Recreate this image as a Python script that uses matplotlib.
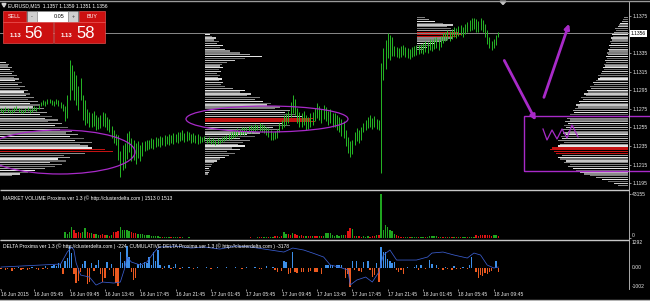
import matplotlib
matplotlib.use("Agg")
import numpy as np
import matplotlib.pyplot as plt
import matplotlib.patches as mpatches
import matplotlib.transforms as mtransforms

plt.rcParams['font.family'] = ['Liberation Sans', 'DejaVu Sans']

# ---- data (prices as pips above 1.1200, one entry per M15 bar) ----
BASE = 1.1200
header_text = "EURUSD,M15  1.1357 1.1359 1.1351 1.1356"
bid_big, ask_big = "56", "58"
lot_size = "0.05"
last_price = 1.1356

bar_high = [76, 75, 77, 76, 74, 75, 77, 78, 76, 75, 74, 76, 77, 75, 76, 78, 77, 79,
            82, 84, 83, 85, 86, 84, 83, 85, 84, 82, 80,
            78,
            90, 127, 122, 116, 111, 100, 108, 90, 84,
            75, 72, 70, 73, 68, 66,
            68, 72, 70, 66, 64,
            57, 52, 48,
            47, 30, 36,
            38, 49, 51, 44,
            41, 38, 40, 36, 39,
            40, 42, 41, 44, 43, 45, 44, 46, 45, 47, 46, 48, 47, 49, 48, 50,
            50, 52, 49, 51, 50, 48, 49, 47, 48, 46,
            45, 46, 44, 45, 43, 44, 42, 44, 43, 45, 46, 47, 48, 50, 51,
            52, 54, 53, 55, 56, 55, 57, 58, 57, 59, 58, 60, 59, 58, 56,
            54, 52, 50, 51, 53,
            60, 63, 68, 70, 73,
            82, 90, 86,
            76, 72, 70, 73, 68, 66, 70,
            72, 76, 81, 78, 75, 79, 77, 73, 75, 71,
            70, 68, 66, 64, 62,
            52, 45, 40, 42,
            50, 54, 52, 55,
            60, 63, 66, 68, 65, 67,
            64, 63,
            124,
            140, 149,
            156, 154, 152,
            142, 141, 140, 142, 143, 141, 140, 139, 141, 142, 143, 144, 145,
            146, 148, 147, 150, 149, 151, 152, 150, 153,
            156, 158, 160, 159, 161, 163, 162, 164, 165, 163, 166,
            168, 170, 172, 173, 171, 169, 172, 170, 166,
            160, 152, 148, 150, 154, 158]

bar_low = [72, 71, 73, 72, 70, 71, 72, 74, 72, 71, 70, 72, 73, 71, 72, 74, 73, 75,
           78, 79, 78, 80, 81, 79, 78, 80, 78, 76, 73,
           62,
           65, 84, 95, 84, 79, 74, 84, 63, 58,
           60, 56, 55, 57, 52, 53,
           54, 57, 55, 52, 50,
           44, 38, 36,
           20, 2, 9,
           11, 21, 29, 19,
           20, 16, 22, 19, 24,
           30, 31, 32, 33, 32, 34, 35, 34, 36, 35, 37, 36, 38, 37, 39, 38,
           40, 41, 39, 40, 41, 38, 39, 38, 37, 38,
           39, 40, 38, 39, 37, 38, 36, 37, 38, 39, 40, 41, 42, 43, 44,
           45, 46, 47, 48, 47, 49, 50, 49, 51, 50, 52, 51, 50, 49, 47,
           45, 42, 41, 43, 44,
           50, 53, 56, 58, 60,
           66, 70, 68,
           60, 56, 55, 58, 52, 53, 56,
           58, 62, 65, 63, 60, 64, 62, 58, 60, 56,
           55, 52, 50, 46, 44,
           35, 28, 23, 27,
           36, 40, 38, 42,
           50, 52, 54, 55, 53, 55,
           53, 52,
           6,
           106, 118,
           130, 127, 132,
           132, 131, 130, 131, 133, 131, 130, 129, 131, 132, 133, 134, 135,
           134, 136, 135, 138, 137, 139, 140, 138, 141,
           146, 148, 149, 148, 150, 152, 151, 153, 154, 152, 155,
           157, 159, 160, 161, 158, 157, 160, 158, 152,
           145, 140, 138, 140, 144, 152]

volume = [0, 0, 0, 0, 0, 0, 0, 0, 0, 0, 0, 0, 0, 0, 0, 0, 0, 0, 0, 0, 0, 0, 0, 0, 0, 0, 0, 0, 0,
          5900, 4000, 5900, 10800, 7800, 5000, 6000, 4500, 5500, 9800, 6000, 5000, 4500, 3500, 4000, 3000,
          2500, 3500, 2500, 3000, 2000, 3000, 6000, 5500, 6500, 10800, 7800, 7500, 8000, 6500, 6000, 5000,
          4500, 4000, 3500, 3500, 3000, 3000, 2500, 2000, 2000, 1500, 1500, 1000, 1200, 900, 1100, 1000,
          800, 1000, 900, 700, 800, 600,
          400, 300, 500, 300, 200, 400, 300, 200, 300, 400, 300, 200, 400, 300, 200, 300, 400, 300, 200, 300,
          400, 300, 200, 300, 400, 300, 200, 300, 400, 300, 500, 400, 300, 500, 600, 700, 500, 600, 800, 700, 900,
          1500, 1800, 1200, 1500, 5900, 4000, 3500, 3000, 4500, 3500, 2500, 2000, 2500, 1800, 2200, 1500,
          2000, 1800, 1500, 2200, 1600, 2000, 1800, 5000, 4500, 5000, 2500, 2000, 2500, 2200, 2800, 3000,
          3000, 7000, 9800, 8800, 2000, 1500, 1800, 1200, 1500, 1300, 1600, 1400, 1800, 1500, 3000,
          3000, 43155, 7800, 12700, 11000, 7800, 6500, 4000, 3000, 2000,
          900, 800, 700, 900, 800, 700, 800, 900, 700, 800,
          700, 800, 900, 2000, 2200, 1800, 2000, 900, 800, 700,
          800, 900, 700, 800, 900, 700, 800, 900, 800, 700,
          900, 800, 1200, 1000, 2500, 2200, 2800, 2500, 3000, 2600, 2800, 2400, 2600, 3000, 2200]

delta = [-80, 0, -120, -60, 0, -150, -90, 0, 40, -100, -60, 0, -130, -70, 30, 0, -90, -110, 0, -50,
         60, -80, 0, 50, 120, 80, 200, 150, -330,
         300, 450, 1050, 700, -300, -720, -650, -200, 150, 290, -810, -700, 240, -150, 100, 380,
         -300, -670, -500, 260, -100, 150, -400, -720, -860, 760, 200, 300, 1050, 480, -200, -575,
         -500, 150, 220, 120, 250, 200, 480, 100, 760, 300, 860, 100, -80, 60, 0, 120, -60, 40, 150, 0, -50, 30,
         0, -40, 20, 0, -60, 0, 30, 0, -30, 0, 20, 0, -50, 0, 0, 40, 0, -30, 0, 20,
         0, -40, 0, 30, 0, 0, -60, 0, 20, 0, -30, 0, 40, 0, -50, -80, 0, 60, -40, 0, 30,
         -100, -190, 0, -150, 290, 250, -330, -250, 720, -200, -240, 0, -220, -200, 0, -190, -150, 0,
         -220, -200, 0, -330, 0, 140, 140, 100, 140, 0, 140, 120, 140, 0, -480, -300, -910, 290, -100,
         330, -150, -200, 250, 0, 290, -100, -430, -380, 230,
         -670, 960, 760, 720, 400, 300, 200, 250, -130, -200, -100, -300, 0, 40, -40, 0, 30, 140, -100, 120,
         0, -60, 0, 380, 150, 0, 140, -80, 0, -100, 40, -90, 0, -100, 50, -80, 0, -90, 30, 0,
         -60, 120, 480, 0, -200, -480, -350, -400, -250, -300, -200, -150, 0, 290, -200]

cum_bars = [0, 9, 18, 27, 30, 32, 33, 34, 36, 40, 43, 46, 51, 54, 56, 57, 59, 63, 66, 69, 71, 72,
            79, 86, 92, 99, 106, 113, 122, 128, 132, 137, 141, 146, 149, 153, 157, 158, 161, 165,
            168, 171, 173, 176, 179, 184, 188, 193, 195, 200, 205, 211, 214, 217, 220, 223, 225]
cum_vals = [-3200, -2600, -2000, -1400, 5800, 8800, 7000, -800, -8000, -9200, -14000, -12200,
            -12800, -12200, -3800, 2800, -200, -2000, -200, 5200, 8200, 8800,
            9400, 8200, 8800, 7600, 9400, 8800, 7000, 5800, 8200, 7000, 5200, 2800, -2000, -3200,
            -5000, -14000, -11000, -9200, -12200, -6200, 4000, 7000, 1000, 1000, 1000, 2800, 5200,
            5800, 4000, 2200, 5200, 4000, -2000, -3800, -3200]

time_label_bars = [0, 15, 31, 47, 63, 79, 95, 111, 127, 143, 159, 175, 191, 207, 223]
time_labels = ["16 Jun 2015", "16 Jun 05:45", "16 Jun 09:45", "16 Jun 13:45", "16 Jun 17:45",
               "16 Jun 21:45", "17 Jun 01:45", "17 Jun 05:45", "17 Jun 09:45", "17 Jun 13:45",
               "17 Jun 17:45", "17 Jun 21:45", "18 Jun 01:45", "18 Jun 05:45", "18 Jun 09:45"]
price_ticks = [1.1375, 1.1335, 1.1315, 1.1295, 1.1275, 1.1255, 1.1235, 1.1215, 1.1195]

# volume profiles: 2-pip bins from a starting pip upward
prof1_start = 2
prof1 = [12, 20, 28, 35, 45, 55, 62, 50, 66, 58, 70, 64, 85, 113, 105, 92,
         88, 80, 92, 75, 84, 70, 78, 66, 72, 60, 68,
         55, 62, 48, 58, 45, 52, 40, 47, 36, 44, 33, 40, 30, 38, 28, 34, 26,
         30, 24, 28, 20, 25, 18, 22, 15, 19, 14, 17, 12, 14, 10, 12, 8, 9, 6]
prof2_start = 4
prof2 = [3, 4, 5, 4, 6, 7, 9, 12, 15, 20, 24, 30, 22, 35, 27, 40, 33,
         38, 45, 35, 50, 42, 55, 48, 75, 68, 85, 78, 110, 105, 108, 98,
         90, 80, 85, 70, 75, 62, 66, 58, 50, 55, 42, 46, 35, 40, 28,
         20, 16, 18, 14, 17, 13, 15, 12, 16, 14, 18, 15, 17,
         22, 30, 40, 57, 45, 35, 25, 20, 15, 18, 12, 14, 9, 11, 7, 5]
prof3_start = 138
prof3 = [6, 10, 14, 18, 24, 30, 36, 40, 44, 42, 38, 34, 30, 36, 26, 18, 12, 8]
prof4_start = -8
prof4 = [10, 14, 20, 26, 32, 38, 44, 48, 52, 55, 60, 58, 64, 62, 68, 70, 66, 72, 74,
         78, 76, 70, 68, 64, 70, 66, 67, 62, 65, 60,
         66, 62, 64, 60, 63, 58, 61, 56, 58, 54, 55,
         53, 50, 52, 48, 49, 45, 47, 42, 44, 40, 41, 37, 38, 34, 35, 32,
         30, 28, 30, 27, 26, 24, 25, 23, 24, 22, 23, 21, 22, 20, 21, 19, 20, 18, 19, 17, 18, 16,
         17, 15, 16, 14, 12, 13, 10, 9, 8, 6, 5, 4]

# ---- layout helpers (pixel space of the 650x301 screenshot) ----
W, H = 650, 301
PX_PER_BAR = 2.21
BAR0_PX = 1.0
PLOT_RIGHT = 629


def rect(x0, y0, x1, y1):
    return [x0 / W, 1 - y1 / H, (x1 - x0) / W, (y1 - y0) / H]


def bar_at(px):
    return (px - BAR0_PX) / PX_PER_BAR


def pip_at(py):
    return 175 - (py - 15.7) / 0.9311


GREEN = '#26b826'
PURPLE = '#a82ac8'
GRID = '#c8c8c8'
GRAYS = ['#8a8a8a', '#c6c6c6', '#6c6c6c', '#e4e4e4', '#a2a2a2', '#7c7c7c']
FS = 3.6

fig = plt.figure(figsize=(W / 100, H / 100), dpi=100)
fig.patch.set_facecolor('black')

ax = fig.add_axes(rect(0, 1.5, PLOT_RIGHT, 189))
axv = fig.add_axes(rect(0, 190.5, PLOT_RIGHT, 239.5))
axd = fig.add_axes(rect(0, 240.5, PLOT_RIGHT, 288.5))
for a in (ax, axv, axd):
    a.set_facecolor('black')
    a.set_xlim(bar_at(0), bar_at(PLOT_RIGHT))
    for s in a.spines.values():
        s.set_visible(False)

idx = np.arange(len(bar_high))

# ---- main price panel ----
ax.set_ylim(pip_at(189), pip_at(1.5))


def draw_profile(start_pip, vols, anchor, right_aligned=False):
    vols = np.asarray(vols, dtype=float)
    lengths = vols / PX_PER_BAR
    centers = start_pip + 1 + 2 * np.arange(len(vols))
    cols = ['#c41212' if v >= 0.9 * vols.max() else GRAYS[k % len(GRAYS)]
            for k, v in enumerate(vols)]
    left = anchor - lengths if right_aligned else anchor
    ax.barh(centers, lengths, left=left, height=1.3, color=cols, linewidth=0, zorder=1)


draw_profile(prof1_start, prof1, bar_at(0))
draw_profile(prof2_start, prof2, bar_at(205))
draw_profile(prof3_start, prof3, bar_at(417))
draw_profile(prof4_start, prof4, bar_at(628), right_aligned=True)

last_pip = (last_price - BASE) * 1e4
ax.axhline(last_pip, color='#a0a0a0', lw=0.6, zorder=2)
ax.vlines(idx, bar_low, bar_high, colors=GREEN, lw=0.7, zorder=3)

ax.set_xticks([])
tick_pips = [(p - BASE) * 1e4 for p in price_ticks]
ax.set_yticks(tick_pips)
ax.set_yticklabels([f"{p:.4f}" for p in price_ticks])
ax.tick_params(axis='y', left=False, labelleft=False, right=True, labelright=True,
               length=1.5, width=0.5, color=GRID, labelsize=FS, labelcolor='#e8e8e8', pad=1)
ax.text(1.003, last_pip, f"{last_price:.4f}", transform=mtransforms.blended_transform_factory(ax.transAxes, ax.transData),
        fontsize=FS, color='black', va='center', ha='left',
        bbox=dict(boxstyle='square,pad=0.2', fc='white', ec='none'), clip_on=False)

# hand-drawn annotations
ax.add_patch(mpatches.Ellipse((bar_at(60), pip_at(152)), 150 / PX_PER_BAR, 44 / 0.9311,
                              fill=False, ec=PURPLE, lw=0.9, zorder=4))
ax.add_patch(mpatches.Ellipse((bar_at(267), pip_at(119)), 162 / PX_PER_BAR, 26 / 0.9311,
                              fill=False, ec=PURPLE, lw=0.9, zorder=4))
ax.annotate('', xy=(bar_at(537), pip_at(123)), xytext=(bar_at(503), pip_at(58)),
            arrowprops=dict(arrowstyle='-|>', color=PURPLE, lw=2.0, mutation_scale=7), zorder=5)
ax.annotate('', xy=(bar_at(570), pip_at(21)), xytext=(bar_at(543), pip_at(100)),
            arrowprops=dict(arrowstyle='-|>', color=PURPLE, lw=2.0, mutation_scale=7), zorder=5)
ax.add_patch(mpatches.Rectangle((bar_at(524), pip_at(171)), bar_at(660) - bar_at(524),
                                pip_at(116) - pip_at(171), fill=False, ec=PURPLE, lw=1.0,
                                clip_on=False, zorder=5))
zig_px = [543, 547, 552, 557, 562, 567, 572, 578]
zig_py = [129, 140, 130, 139, 129, 138, 125, 137]
ax.plot([bar_at(x) for x in zig_px], [pip_at(y) for y in zig_py], color=PURPLE, lw=0.9, zorder=5)

# ---- market volume panel ----
vol_top = 43155
axv.set_ylim(-1.5 * 981, (238 - 190.5) * 981)
vcols = ['#1fa51f' if d >= 0 else '#e01414' for d in delta]
axv.bar(idx, volume, width=0.62, color=vcols, linewidth=0)
axv.set_xticks([])
axv.set_yticks([vol_top, 0])
axv.tick_params(axis='y', left=False, labelleft=False, right=True, labelright=False,
                length=1.5, width=0.5, color=GRID)
tv = mtransforms.blended_transform_factory(axv.transAxes, axv.transData)
axv.text(1.0048, vol_top, str(vol_top), transform=tv, fontsize=FS, color='#e8e8e8', va='center')
axv.text(1.0048, 0, "0", transform=tv, fontsize=FS, color='#e8e8e8', va='bottom')

# ---- delta panel ----
d_top, d_bot = 1292, -1002
axd.set_ylim(d_bot, d_top)
dcols = ['#3d8fe8' if d >= 0 else '#ec5a20' for d in delta]
axd.bar(idx, delta, width=0.62, color=dcols, linewidth=0)
axd.set_yticks([d_top, 0, d_bot])
axd.tick_params(axis='y', left=False, labelleft=False, right=True, labelright=False,
                length=1.5, width=0.5, color=GRID)
td = mtransforms.blended_transform_factory(axd.transAxes, axd.transData)
axd.text(1.0048, d_top, str(d_top), transform=td, fontsize=FS, color='#e8e8e8', va='top')
axd.text(1.0048, 0, "0.00", transform=td, fontsize=FS, color='#e8e8e8', va='center')
axd.text(1.0048, d_bot, str(d_bot), transform=td, fontsize=FS, color='#e8e8e8', va='bottom')

axd.set_xticks(time_label_bars)
axd.set_xticklabels(time_labels)
axd.tick_params(axis='x', length=1.5, width=0.5, color=GRID, labelsize=FS,
                labelcolor='#e8e8e8', pad=1)
for lbl in axd.get_xticklabels():
    lbl.set_ha('left')

axc = axd.twinx()
axc.set_ylim(-3178 - 600 * 21.5, -3178 + 600 * 26.5)
axc.plot(cum_bars, cum_vals, color='#3b5ed0', lw=0.55)
axc.set_yticks([])
for s in axc.spines.values():
    s.set_visible(False)

# ---- overlay: frame, titles, one-click trading panel ----
ov = fig.add_axes([0, 0, 1, 1])
ov.set_xlim(0, W)
ov.set_ylim(H, 0)
ov.axis('off')

ov.plot([0, W], [0.7, 0.7], color='#9a9a9a', lw=1.0)
ov.fill([500, 506, 503], [1.2, 1.2, 4.5], color=GRID)
for y in (189.6, 240.2):
    ov.plot([0, PLOT_RIGHT], [y, y], color=GRID, lw=1.0, solid_capstyle='butt')
ov.plot([PLOT_RIGHT, PLOT_RIGHT], [1.5, 288.5], color=GRID, lw=0.6)
ov.plot([0, W], [299.6, 299.6], color='#b4b4b4', lw=1.0)

ov.fill([2, 6, 4], [3.5, 3.5, 7], color='#d0d0d0')
ov.text(8, 5.5, header_text, fontsize=FS, color='white', va='center', ha='left')
ov.text(3, 198.5, "MARKET VOLUME Proxima ver 1.3 (\u00a9 http://clusterdelta.com ) 1513 0 1513",
        fontsize=FS, color='white', va='center', ha='left')
ov.text(3, 246.5, "DELTA Proxima ver 1.3 (\u00a9 http://clusterdelta.com ) -224  "
        "CUMULATIVE DELTA Proxima ver 1.3 (\u00a9 http://clusterdelta.com ) -3178",
        fontsize=FS, color='white', va='center', ha='left')

RED = '#cc1010'
EDGE = '#ff6060'
ov.add_patch(mpatches.Rectangle((3, 11), 23, 11, fc=RED, ec=EDGE, lw=0.4))
ov.text(14.5, 16.7, "SELL", fontsize=3.9, color='white', ha='center', va='center')
ov.add_patch(mpatches.Rectangle((27, 11), 10, 11, fc='#cfcfcf', ec='#909090', lw=0.4))
ov.text(32, 16.3, "-", fontsize=4, color='#333333', ha='center', va='center')
ov.add_patch(mpatches.Rectangle((37, 11), 31, 11, fc='white', ec='#909090', lw=0.4))
ov.text(65, 16.7, lot_size, fontsize=3.9, color='black', ha='right', va='center')
ov.add_patch(mpatches.Rectangle((68, 11), 10, 11, fc='#cfcfcf', ec='#909090', lw=0.4))
ov.text(73, 16.5, "+", fontsize=4, color='#333333', ha='center', va='center')
ov.add_patch(mpatches.Rectangle((79, 11), 26, 11, fc=RED, ec=EDGE, lw=0.4))
ov.text(92, 16.7, "BUY", fontsize=3.9, color='white', ha='center', va='center')

ov.add_patch(mpatches.Rectangle((3, 22), 50, 21, fc=RED, ec=EDGE, lw=0.4))
ov.text(15.5, 35.5, "1.13", fontsize=4.3, color='white', ha='center', va='center', weight='bold')
ov.text(34, 33, bid_big, fontsize=12, color='white', ha='center', va='center')
ov.add_patch(mpatches.Rectangle((54, 22), 51, 21, fc=RED, ec=EDGE, lw=0.4))
ov.text(67, 35.5, "1.13", fontsize=4.3, color='white', ha='center', va='center', weight='bold')
ov.text(86, 33, ask_big, fontsize=12, color='white', ha='center', va='center')

fig.savefig("out.png", dpi=100, facecolor='black')
